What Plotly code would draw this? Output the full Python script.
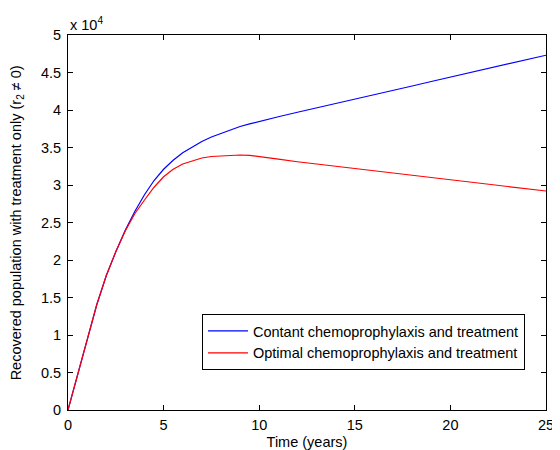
import plotly.graph_objects as go

# Time (years)
t = [0, 0.5, 1, 1.5, 2, 2.5, 3, 3.5, 4, 4.5, 5, 5.5, 6, 6.5, 7, 7.5, 8, 8.5, 9, 9.5, 10,
     11, 12, 13, 14, 15, 16, 17, 18, 19, 20, 21, 22, 23, 24, 25]

# Recovered population (actual counts)
constant_vals = [0, 4700, 9500, 14000, 17900, 21100, 24000, 26500, 28700, 30600, 32100, 33300,
                 34300, 35100, 35800, 36400, 36900, 37350, 37800, 38150, 38500,
                 39100, 39700, 40270, 40850, 41420, 42000, 42600, 43200, 43800, 44400,
                 44970, 45550, 46120, 46700, 47300]
optimal_vals = [0, 4700, 9500, 14000, 17900, 21100, 23900, 26200, 28000, 29700, 31100, 32100,
                32800, 33250, 33600, 33800, 33900, 33980, 34000, 33950, 33800,
                33450, 33100, 32800, 32500, 32170, 31850, 31550, 31240, 30950, 30660,
                30370, 30080, 29780, 29490, 29200]

x_ticks = [0, 5, 10, 15, 20, 25]
y_tick_vals = [0, 5000, 10000, 15000, 20000, 25000, 30000, 35000, 40000, 45000, 50000]
y_tick_text = ["0", "0.5", "1", "1.5", "2", "2.5", "3", "3.5", "4", "4.5", "5"]

font = dict(family="Liberation Sans, Arial, sans-serif", size=14.5, color="black")

fig = go.Figure()
fig.add_trace(go.Scatter(x=t, y=constant_vals, mode="lines", line=dict(color="#0000ff", width=1.2),
                         name="Contant chemoprophylaxis and treatment"))
fig.add_trace(go.Scatter(x=t, y=optimal_vals, mode="lines", line=dict(color="#ff0000", width=1.2),
                         name="Optimal chemoprophylaxis and treatment"))

axis_common = dict(showline=True, linecolor="black", linewidth=1, mirror="ticks", ticks="inside",
                   ticklen=5, tickcolor="black", showgrid=False, zeroline=False, tickfont=font,
                   automargin=False)

fig.update_xaxes(range=[0, 25], tickvals=x_ticks, ticklabelstandoff=2,
                 title=dict(text="Time (years)", font=font, standoff=6),
                 **axis_common)
fig.update_yaxes(range=[0, 50000], tickvals=y_tick_vals, ticktext=y_tick_text, ticklabelstandoff=3,
                 **axis_common)

# y-axis title
fig.add_annotation(text="Recovered population with treatment only (r<sub>2</sub> ≠ 0)",
                   xref="paper", yref="paper", x=-0.107, y=0.5, xanchor="center", yanchor="middle",
                   textangle=-90, showarrow=False, font=font)

fig.add_annotation(text="x 10<sup>4</sup>", xref="paper", yref="paper", x=0, y=1, xanchor="left", yanchor="bottom",
                   showarrow=False, font=font, yshift=0)

fig.update_layout(
    width=552, height=442,
    margin=dict(l=60, r=14, t=27, b=40),
    paper_bgcolor="white", plot_bgcolor="white",
    font=font,
    showlegend=True,
    legend=dict(x=0.956, y=0.256, xanchor="right", yanchor="top", bgcolor="white",
                bordercolor="black", borderwidth=1, font=font, tracegroupgap=0,
                itemwidth=40),
)

fig.write_html("out.html")
